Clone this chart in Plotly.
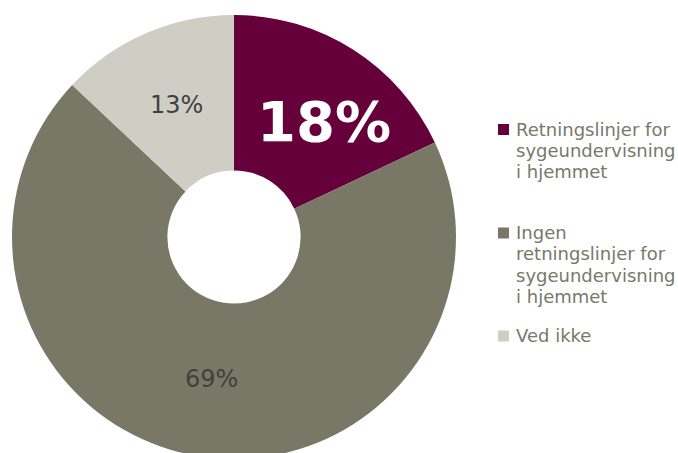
import math
import plotly.graph_objects as go

# data
categories = [
    ["Retningslinjer for", "sygeundervisning", "i hjemmet"],
    ["Ingen", "retningslinjer for", "sygeundervisning", "i hjemmet"],
    ["Ved ikke"],
]
values = [18, 69, 13]
colors = ["#65003B", "#797866", "#CFCEC5"]

label_colors = ["#FFFFFF", "#404040", "#404040"]
label_sizes = [56, 24, 24]
label_bold = [True, False, False]

W, H = 678, 462   # a bit taller than the window: the donut is cut at the bottom
FONT = "DejaVu Sans"

# pie geometry in pixels
cx, cy, R = 234, 237, 222
hole = 0.3
top, bottom = cy - R, H - (cy + R)
plot_h = H - top - bottom


def px_x(x):
    return x / W


def px_y(y):
    # paper coords are relative to the plot area, between the margins
    return 1 - (y - top) / plot_h


fig = go.Figure(go.Pie(
    labels=[" ".join(c) for c in categories],
    values=values,
    hole=hole,
    sort=False,
    direction="clockwise",
    rotation=0,
    marker=dict(colors=colors, line=dict(width=0)),
    textinfo="none",
    hoverinfo="label+percent",
    domain=dict(x=[(cx - R) / W, (cx + R) / W], y=[0, 1]),
    showlegend=False,
))

# percentage labels placed along the ring
total = sum(values)
cum = 0
label_r = 144
nudges = [(13, 6), (0, 0), (0, 0)]
for i, v in enumerate(values):
    mid = (cum + v / 2) / total * 2 * math.pi
    cum += v
    lx = cx + label_r * math.sin(mid) + nudges[i][0]
    ly = cy - label_r * math.cos(mid) + nudges[i][1]
    pct = f"{round(v / total * 100)}%"
    txt = f"<b>{pct}</b>" if label_bold[i] else pct
    fig.add_annotation(
        x=px_x(lx), y=px_y(ly), xref="paper", yref="paper",
        text=txt, showarrow=False, xanchor="center", yanchor="middle",
        font=dict(family=FONT, size=label_sizes[i], color=label_colors[i]),
    )

# manual legend
leg_first_y = [129, 232.5, 335.5]
line_h = 21.3
text_x = 514
for i, lines in enumerate(categories):
    y0 = leg_first_y[i]
    fig.add_shape(
        type="rect", xref="paper", yref="paper",
        x0=px_x(498), x1=px_x(509),
        y0=px_y(y0 + 6), y1=px_y(y0 - 5),
        fillcolor=colors[i], line=dict(width=0),
    )
    for j, line in enumerate(lines):
        fig.add_annotation(
            x=px_x(text_x), y=px_y(y0 + j * line_h),
            xref="paper", yref="paper", text=line, showarrow=False,
            xanchor="left", yanchor="middle",
            font=dict(family=FONT, size=18, color="#78786A"),
        )

fig.update_layout(
    width=W, height=H,
    margin=dict(l=0, r=0, t=top, b=bottom),
    paper_bgcolor="white",
    plot_bgcolor="white",
    font=dict(family=FONT, size=16, color="#78786A"),
)

fig.write_html(
    "out.html",
    config={"displayModeBar": False},
    post_script="document.body.style.margin='0';document.body.style.overflow='hidden';",
)
